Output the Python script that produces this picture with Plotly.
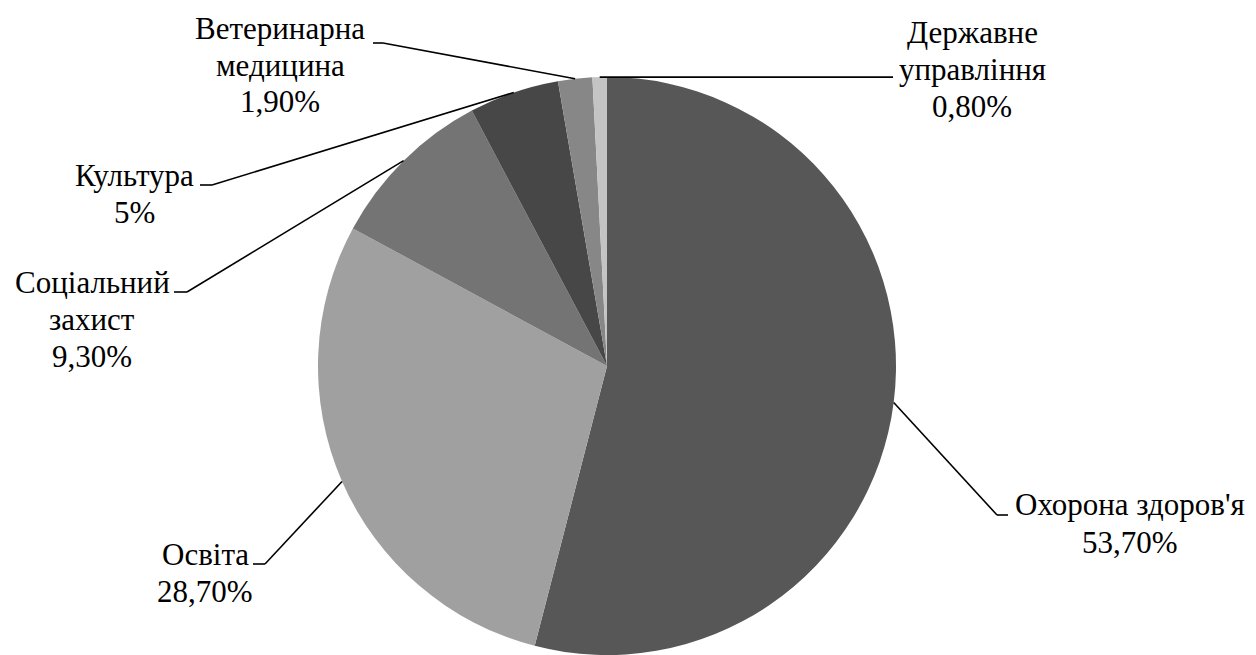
import math
import plotly.graph_objects as go

# Budget shares by sector, clockwise from 12 o'clock
categories = ["Охорона здоров'я", "Освіта", "Соціальний захист", "Культура",
              "Ветеринарна медицина", "Державне управління"]
shares = [53.7, 28.7, 9.3, 5.0, 1.9, 0.8]
share_labels = ["53,70%", "28,70%", "9,30%", "5%", "1,90%", "0,80%"]
label_lines = [["Охорона здоров'я"], ["Освіта"], ["Соціальний", "захист"],
               ["Культура"], ["Ветеринарна", "медицина"], ["Державне", "управління"]]
colors = ["#575757", "#a0a0a0", "#747474", "#474747", "#878787", "#c4c4c4"]

W, H = 1256, 655
FONT = "Liberation Serif"
FS = 31
LINE_GAP = 37

# pie domain in pixels
PX0, PX1 = 317, 897
PY0, PY1 = 77, 655
CX, CY = (PX0 + PX1) / 2, (PY0 + PY1) / 2
R = min(PX1 - PX0, PY1 - PY0) / 2


def px(x):
    return x / W


def py(y):
    return 1 - y / H


# label layout: text centre x, baseline of first line, elbow point, stub end
label_layout = [
    dict(tx=1130, base=515, elbow=(997, 515), stub=(1008, 515)),
    dict(tx=205, base=564, elbow=(265, 564), stub=(253, 564)),
    dict(tx=92, base=292, elbow=(187, 292), stub=(174, 292)),
    dict(tx=134, base=185, elbow=(212, 185), stub=(200, 185)),
    dict(tx=280, base=38, elbow=(383, 43), stub=(373, 43)),
    dict(tx=972, base=43, elbow=None, stub=(893, None)),
]

fig = go.Figure()
fig.add_trace(go.Pie(
    labels=categories, values=shares, sort=False, direction="clockwise",
    rotation=0, marker=dict(colors=colors, line=dict(width=0)),
    textinfo="none", hoverinfo="label+percent", showlegend=False,
    domain=dict(x=[px(PX0), px(PX1)], y=[py(PY1), py(PY0)]),
))

total = sum(shares)
cum = 0.0
shapes, annotations = [], []
for cat, val, lab, lines, lay in zip(categories, shares, share_labels, label_lines, label_layout):
    mid = (cum + val / 2) / total * 2 * math.pi
    cum += val
    sx, sy = CX + R * math.sin(mid), CY - R * math.cos(mid)
    if lay["elbow"] is None:
        pts = [(sx, sy), (lay["stub"][0], sy)]
    else:
        pts = [(sx, sy), lay["elbow"], lay["stub"]]
    for (x0, y0), (x1, y1) in zip(pts[:-1], pts[1:]):
        shapes.append(dict(type="line", xref="paper", yref="paper",
                           x0=px(x0), y0=py(y0), x1=px(x1), y1=py(y1),
                           line=dict(color="black", width=1.6), layer="above"))
    for i, txt in enumerate(lines + [lab]):
        annotations.append(dict(
            x=px(lay["tx"]), y=py(lay["base"] + i * LINE_GAP - 10),
            xref="paper", yref="paper",
            text=txt, showarrow=False, xanchor="center", yanchor="middle",
            font=dict(family=FONT, size=FS, color="black")))

fig.update_layout(
    width=W, height=H, margin=dict(l=0, r=0, t=0, b=0),
    paper_bgcolor="white",
    font=dict(family=FONT),
    shapes=shapes, annotations=annotations,
)
fig.write_html("out.html")
